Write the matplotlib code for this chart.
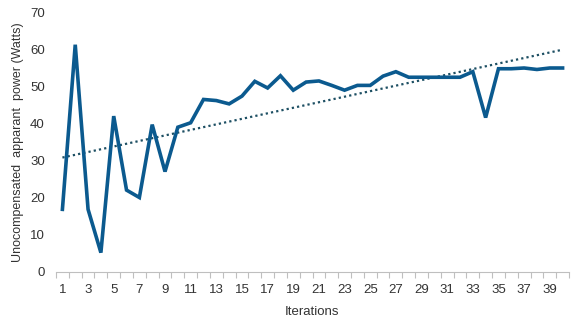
import numpy as np
import matplotlib
matplotlib.use("Agg")
import matplotlib.pyplot as plt

iterations = list(range(1, 41))
power = [16.8, 61.3, 16.8, 5.1, 42.0, 22.0, 20.0, 39.7, 27.0, 39.0,
         40.2, 46.5, 46.2, 45.3, 47.4, 51.4, 49.6, 52.9, 49.0, 51.2,
         51.5, 50.3, 49.0, 50.3, 50.3, 52.8, 54.0, 52.5, 52.5, 52.5,
         52.5, 52.5, 54.0, 41.6, 54.8, 54.8, 55.0, 54.6, 55.0, 55.0]
xtick_labels = [str(i) for i in range(1, 40, 2)]

plt.rcParams['font.family'] = ['Liberation Sans', 'DejaVu Sans']

fig = plt.figure(figsize=(5.73, 3.2), dpi=100)
ax = fig.add_axes([56/573, 1 - 271.5/320, (569 - 56)/573, (271.5 - 12.5)/320])

x = np.array(iterations)
y = np.array(power)
ax.plot(x, y, color='#0b5a8f', lw=2.6, solid_joinstyle='miter', zorder=3)

coef = np.polyfit(x, y, 1)
ax.plot(x, np.polyval(coef, x), color='#1d4f63', lw=1.6, ls=(0, (1, 1.4)), zorder=2)

ax.set_xlim(0.5, 40.5)
ax.set_ylim(0, 70)
ax.set_yticks(range(0, 71, 10))
ax.set_xticks(range(1, 40, 2))
ax.set_xticklabels(xtick_labels)
ax.set_xticks(np.arange(0.5, 41, 1), minor=True)

for s in ['top', 'right', 'left']:
    ax.spines[s].set_visible(False)
ax.spines['bottom'].set_color('#bfbfbf')
ax.spines['bottom'].set_linewidth(0.8)

ax.tick_params(axis='x', which='major', length=0, pad=9, labelsize=9.5, colors='#333333')
ax.tick_params(axis='x', which='minor', length=4, color='#bfbfbf', width=0.8)
ax.tick_params(axis='y', length=0, pad=8, labelsize=9.5, colors='#333333')

ax.set_xlabel('Iterations', fontsize=9.5, color='#333333', labelpad=7)
ax.set_ylabel('Unocompensated  apparant  power (Watts)', fontsize=9, color='#333333', labelpad=4)

fig.savefig('out.png', dpi=100)
